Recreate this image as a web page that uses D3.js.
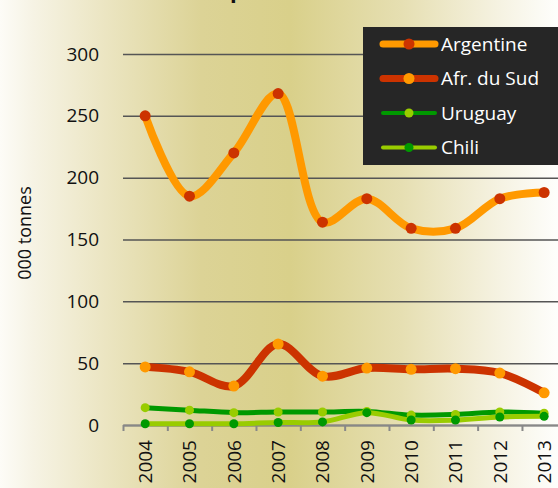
<!DOCTYPE html>
<html>
<head>
<meta charset="utf-8">
<script src="https://cdn.jsdelivr.net/npm/d3@7"></script>
<style>
  html, body { margin: 0; padding: 0; overflow: hidden; }
  svg { display: block; font-family: "Open Sans", "Noto Sans", sans-serif; }
</style>
</head>
<body>
<div id="chart"></div>
<script>
// data (000 tonnes)
var years = ['2004', '2005', '2006', '2007', '2008', '2009', '2010', '2011', '2012', '2013'];
var argentine = [250, 185, 220, 268, 164, 183, 159, 159, 183, 188];
var afrSud = [47, 43, 31.5, 65.5, 39.5, 46, 45, 45.5, 42, 26];
var uruguay = [14, 12, 10, 10.5, 10.5, 11, 8, 8.5, 10.5, 9.5];
var chili = [1, 1, 1, 2, 2.5, 10, 4, 4, 6.5, 7];
var yTicks = [0, 50, 100, 150, 200, 250, 300];

var series = [
  { name: 'Argentine', values: argentine, line: '#ff9900', dot: '#cc3300', width: 8, r: 5.5 },
  { name: 'Afr. du Sud', values: afrSud, line: '#cc3300', dot: '#ff9900', width: 8, r: 5.5 },
  { name: 'Uruguay', values: uruguay, line: '#009900', dot: '#99cc00', width: 5, r: 4.5 },
  { name: 'Chili', values: chili, line: '#99cc00', dot: '#009900', width: 5, r: 4.5 }
];

function drawChart() {
  var W = 558, H = 488;
  var plotLeft = 123, plotRight = 566.3, plotTop = 54, plotBottom = 425;

  var svg = d3.select('#chart').append('svg')
    .attr('width', W)
    .attr('height', H);

  var grad = svg.append('defs').append('linearGradient')
    .attr('id', 'bg')
    .attr('x1', '0%').attr('x2', '100%').attr('y1', '0%').attr('y2', '0%');
  [[0, '#fdfcf7'], [0.06, '#f6f3e4'], [0.18, '#ece6c4'], [0.36, '#dcd396'],
   [0.52, '#d9d08a'], [0.72, '#e6dfb2'], [0.9, '#f6f3e3'], [1, '#fefefc']].forEach(function(s) {
    grad.append('stop').attr('offset', s[0]).attr('stop-color', s[1]);
  });

  svg.append('rect')
    .attr('x', 0).attr('y', 0)
    .attr('width', W).attr('height', H)
    .attr('fill', 'url(#bg)');

  // title, almost entirely above the visible area
  svg.append('text')
    .attr('x', 205)
    .attr('y', -2)
    .attr('font-size', 22)
    .attr('font-weight', 'bold')
    .attr('fill', '#111')
    .text('Exportations');

  var x = d3.scaleBand().domain(years).range([plotLeft, plotRight]);
  var xEdge = d3.scaleLinear().domain([0, years.length]).range([plotLeft, plotRight]);
  var y = d3.scaleLinear().domain([0, 300]).range([plotBottom, plotTop]);

  // gridlines + y labels
  var yAxis = svg.append('g')
    .attr('transform', 'translate(' + plotLeft + ',0)')
    .call(d3.axisLeft(y).tickValues(yTicks).tickSize(-(W - plotLeft)).tickPadding(24));
  yAxis.select('.domain').remove();
  yAxis.selectAll('.tick line').attr('stroke', '#555').attr('stroke-width', 1.5);
  yAxis.selectAll('.tick text')
    .attr('font-size', 19)
    .attr('fill', '#111')
    .attr('font-family', '"Open Sans", sans-serif');

  // x axis with ticks between categories
  var xTicks = svg.append('g')
    .attr('transform', 'translate(0,' + plotBottom + ')')
    .call(d3.axisBottom(xEdge).ticks(years.length).tickSizeInner(6).tickSizeOuter(0).tickFormat(''));
  xTicks.select('.domain').attr('stroke', '#888').attr('stroke-width', 2);
  xTicks.selectAll('.tick line').attr('stroke', '#888').attr('stroke-width', 2);

  var xLabels = svg.append('g')
    .attr('transform', 'translate(0,' + plotBottom + ')')
    .call(d3.axisBottom(x).tickSize(0).tickPadding(0));
  xLabels.select('.domain').remove();
  xLabels.selectAll('.tick text')
    .attr('font-size', 19)
    .attr('fill', '#111')
    .attr('font-family', '"Open Sans", sans-serif')
    .attr('text-anchor', 'end')
    .attr('transform', 'translate(0,15) rotate(-90)')
    .attr('x', 0)
    .attr('y', 0)
    .attr('dy', '0.36em');

  // y axis title
  svg.append('text')
    .attr('transform', 'translate(31,233) rotate(-90)')
    .attr('text-anchor', 'middle')
    .attr('font-size', 18)
    .attr('fill', '#111')
    .text('000 tonnes');

  var line = d3.line()
    .x(function(d, i) { return x(years[i]) + x.bandwidth() / 2; })
    .y(function(d) { return y(d); })
    .curve(d3.curveCatmullRom.alpha(0.5));

  series.forEach(function(s) {
    var g = svg.append('g');
    g.append('path')
      .attr('d', line(s.values))
      .attr('fill', 'none')
      .attr('stroke', s.line)
      .attr('stroke-width', s.width)
      .attr('stroke-linejoin', 'round')
      .attr('stroke-linecap', 'round');
    g.selectAll('circle')
      .data(s.values)
      .enter().append('circle')
      .attr('cx', function(d, i) { return x(years[i]) + x.bandwidth() / 2; })
      .attr('cy', function(d) { return y(d); })
      .attr('r', s.r)
      .attr('fill', s.dot);
  });

  // legend
  var legend = svg.append('g');
  legend.append('rect')
    .attr('x', 363).attr('y', 27)
    .attr('width', W - 363).attr('height', 138)
    .attr('fill', '#262626');

  var rows = legend.selectAll('g.row')
    .data(series)
    .enter().append('g')
    .attr('class', 'row')
    .attr('transform', function(d, i) { return 'translate(0,' + (44 + i * 34.5) + ')'; });

  rows.append('line')
    .attr('x1', 383).attr('x2', 435)
    .attr('y1', 0).attr('y2', 0)
    .attr('stroke', function(d) { return d.line; })
    .attr('stroke-width', function(d) { return d.width - 1; })
    .attr('stroke-linecap', 'round');
  rows.append('circle')
    .attr('cx', 409).attr('cy', 0)
    .attr('r', function(d) { return d.r; })
    .attr('fill', function(d) { return d.dot; });
  rows.append('text')
    .attr('x', 441)
    .attr('y', 0)
    .attr('dy', '0.35em')
    .attr('font-size', 19)
    .attr('fill', '#ffffff')
    .text(function(d) { return d.name; });
}

drawChart();
</script>
</body>
</html>
